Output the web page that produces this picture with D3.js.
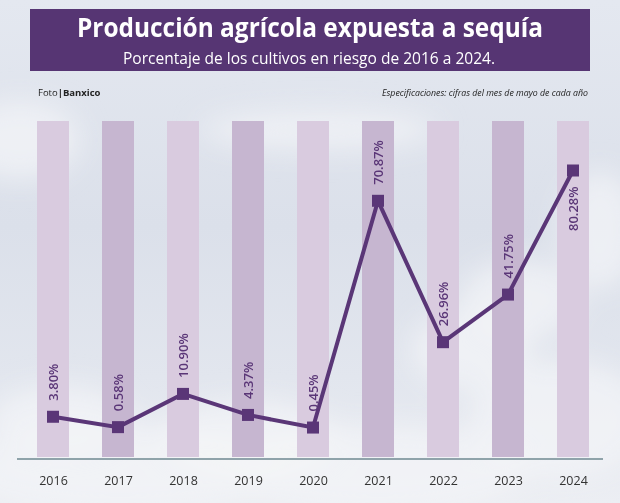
<!DOCTYPE html>
<html>
<head>
<meta charset="utf-8">
<script src="https://cdn.jsdelivr.net/npm/d3@7/dist/d3.min.js"></script>
<style>
  html, body { margin: 0; padding: 0; background: #dfe4ec; }
  svg { display: block; }
</style>
</head>
<body>
<script>
// ---- data ----
const years = ["2016","2017","2018","2019","2020","2021","2022","2023","2024"];
const values = [3.80, 0.58, 10.90, 4.37, 0.45, 70.87, 26.96, 41.75, 80.28];
const valueLabels = ["3.80%","0.58%","10.90%","4.37%","0.45%","70.87%","26.96%","41.75%","80.28%"];
const labelSide = ["above","above","above","above","above","above","above","above","below"];

const title = "Producción agrícola expuesta a sequía";
const subtitle = "Porcentaje de los cultivos en riesgo de 2016 a 2024.";
const specText = "Especificaciones: cifras del mes de mayo de cada año";

const W = 620, H = 503;
const purple = "#5a3677";

const svg = d3.select("body").append("svg").attr("width", W).attr("height", H);
const defs = svg.append("defs");

// sky background
const g1 = defs.append("linearGradient").attr("id","sky").attr("x1",0).attr("y1",0).attr("x2",0).attr("y2",1);
g1.append("stop").attr("offset","0%").attr("stop-color","#e4e8f0");
g1.append("stop").attr("offset","45%").attr("stop-color","#dbe0ea");
g1.append("stop").attr("offset","75%").attr("stop-color","#e2e6ee");
g1.append("stop").attr("offset","100%").attr("stop-color","#eceef3");
svg.append("rect").attr("width",W).attr("height",H).attr("fill","url(#sky)");

const blur = defs.append("filter").attr("id","blur").attr("x","-50%").attr("y","-50%").attr("width","200%").attr("height","200%");
blur.append("feGaussianBlur").attr("stdDeviation",14);
const clouds = [
  [120,470,160,45],[60,420,70,35],[250,440,90,40],[380,470,150,45],[560,420,90,60],
  [520,300,60,40],[600,230,40,60],[320,130,120,20],[20,140,60,40],[470,350,60,40]
];
svg.append("g").attr("filter","url(#blur)").selectAll("ellipse").data(clouds).join("ellipse")
  .attr("cx",d=>d[0]).attr("cy",d=>d[1]).attr("rx",d=>d[2]).attr("ry",d=>d[3])
  .attr("fill","#f3f4f7").attr("opacity",0.75);

// ---- header ----
svg.append("rect").attr("x",30).attr("y",9).attr("width",560).attr("height",62).attr("fill","#563573");
svg.append("text").attr("x",310).attr("y",37).attr("text-anchor","middle")
  .attr("font-family","'Liberation Sans Narrow','Open Sans',sans-serif").attr("font-weight","bold")
  .attr("font-size",27).attr("fill","#fff")
  .attr("textLength",466).attr("lengthAdjust","spacingAndGlyphs").text(title);
svg.append("text").attr("x",309).attr("y",64).attr("text-anchor","middle")
  .attr("font-family","'Open Sans',sans-serif")
  .attr("font-size",16.5).attr("fill","#fff")
  .attr("textLength",372).attr("lengthAdjust","spacingAndGlyphs").text(subtitle);

const foto = svg.append("text").attr("x",38).attr("y",96)
  .attr("font-family","'Open Sans',sans-serif").attr("font-size",9.5).attr("fill","#222");
foto.append("tspan").text("Foto");
foto.append("tspan").attr("font-weight","bold").text("|Banxico");

svg.append("text").attr("x",588).attr("y",96).attr("text-anchor","end")
  .attr("font-family","'Open Sans',sans-serif").attr("font-style","italic")
  .attr("font-size",9).attr("fill","#222")
  .attr("textLength",206).attr("lengthAdjust","spacingAndGlyphs").text(specText);

// ---- scales ----
const x = d3.scalePoint().domain(years).range([53, 573]);
const y = d3.scaleLinear().domain([0, 100]).range([429, 107]);
const barW = 32, barTop = 121, barBottom = 457, axisY = 459;

// background columns
svg.append("g").selectAll("rect").data(years).join("rect")
  .attr("x", d => x(d) - barW/2).attr("y", barTop)
  .attr("width", barW).attr("height", barBottom - barTop)
  .attr("fill", (d,i) => i % 2 === 0 ? "#d9cbdf" : "#c6b6d0");

// axis
svg.append("line").attr("x1",17).attr("x2",603).attr("y1",axisY).attr("y2",axisY)
  .attr("stroke","#8fa3aa").attr("stroke-width",2);
const ax = svg.append("g").attr("transform",`translate(0,${axisY})`)
  .call(d3.axisBottom(x).tickSize(0));
ax.select(".domain").remove();
ax.selectAll("text").attr("y",26).attr("dy",0)
  .attr("font-family","'Open Sans',sans-serif").attr("font-size",12.5).attr("fill","#333");

// line
const line = d3.line().x((d,i) => x(years[i])).y(d => y(d));
svg.append("path").datum(values).attr("d", line)
  .attr("fill","none").attr("stroke",purple).attr("stroke-width",4).attr("stroke-linejoin","miter");

// markers
const ms = 12;
svg.append("g").selectAll("rect").data(values).join("rect")
  .attr("x",(d,i) => x(years[i]) - ms/2).attr("y", d => y(d) - ms/2)
  .attr("width",ms).attr("height",ms).attr("fill",purple);

// value labels (rotated)
svg.append("g").selectAll("text").data(values).join("text")
  .attr("transform",(d,i) => {
    const cx = x(years[i]) + 4.5, cy = y(d);
    const ty = labelSide[i] === "above" ? cy - 16 : cy + 16;
    return `translate(${cx},${ty}) rotate(-90)`;
  })
  .attr("text-anchor",(d,i) => labelSide[i] === "above" ? "start" : "end")
  .attr("font-family","'Open Sans',sans-serif").attr("font-weight",600)
  .attr("font-size",13).attr("fill",purple)
  .text((d,i) => valueLabels[i]);
</script>
</body>
</html>
